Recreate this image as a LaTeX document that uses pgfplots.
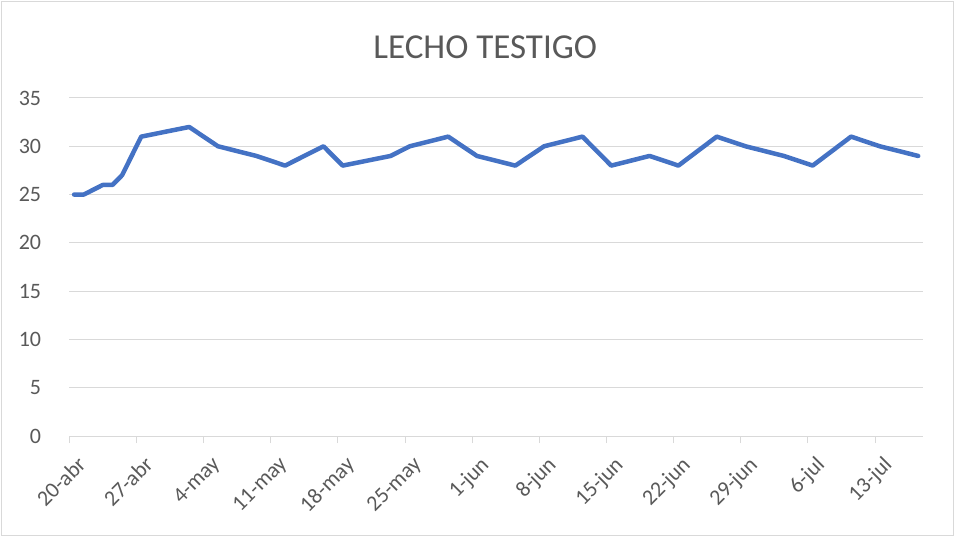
\documentclass[border=0pt]{standalone}
\usepackage{pgfplots}
\pgfplotsset{compat=1.18}
\usepackage{fontspec}
\setmainfont{Carlito}
\definecolor{txtgray}{RGB}{89,89,89}
\definecolor{gridgray}{RGB}{217,217,217}
\definecolor{xlblue}{RGB}{68,114,196}
\begin{document}
\begin{tikzpicture}
\begin{axis}[
  at={(0,0)}, anchor=south west,
  scale only axis,
  width=853.7bp, height=338bp,
  xmin=0, xmax=89, ymin=0, ymax=35,
  xtick={0,7,14,21,28,35,42,49,56,63,70,77,84},
  xticklabels={20-abr,27-abr,4-may,11-may,18-may,25-may,1-jun,8-jun,15-jun,22-jun,29-jun,6-jul,13-jul},
  ytick={0,5,10,15,20,25,30,35},
  ymajorgrids, grid style={gridgray, line width=1bp},
  axis x line*=bottom, axis y line*=left,
  x axis line style={gridgray, line width=1bp, -},
  y axis line style={draw=none},
  xtick style={gridgray, line width=1bp},
  ytick style={draw=none},
  tick align=outside, major tick length=7bp,
  tick label style={font=\fontsize{22bp}{26bp}\selectfont, text=txtgray},
  /pgf/number format/assume math mode=true,
  yticklabel style={anchor=east, inner sep=0pt, xshift=-21bp},
  xticklabel style={xshift=7bp, yshift=-12bp, rotate=45, anchor=north east, inner sep=0pt},
]
\addplot[xlblue, line width=4.5bp, line join=round, line cap=round] coordinates {
(0.5,25) (1.5,25) (3.5,26) (4.5,26) (5.5,27) (7.5,31) (12.5,32) (15.5,30)
(19.5,29) (22.5,28) (26.5,30) (28.5,28) (33.5,29) (35.5,30) (39.5,31)
(42.5,29) (46.5,28) (49.5,30) (53.5,31) (56.5,28) (60.5,29) (63.5,28)
(67.5,31) (70.5,30) (74.5,29) (77.5,28) (81.5,31) (84.5,30) (88.5,29)
};
\end{axis}
\node[text=txtgray, font=\fontsize{35bp}{40bp}\selectfont, anchor=center] at (416bp,389bp) {LECHO TESTIGO};
\draw[gridgray, line width=1bp] (-67.8bp,-99.5bp) rectangle (884.2bp,434.5bp);
\pgfresetboundingbox
\useasboundingbox (-69.3bp,-101bp) rectangle (885.7bp,436bp);
\end{tikzpicture}
\end{document}
